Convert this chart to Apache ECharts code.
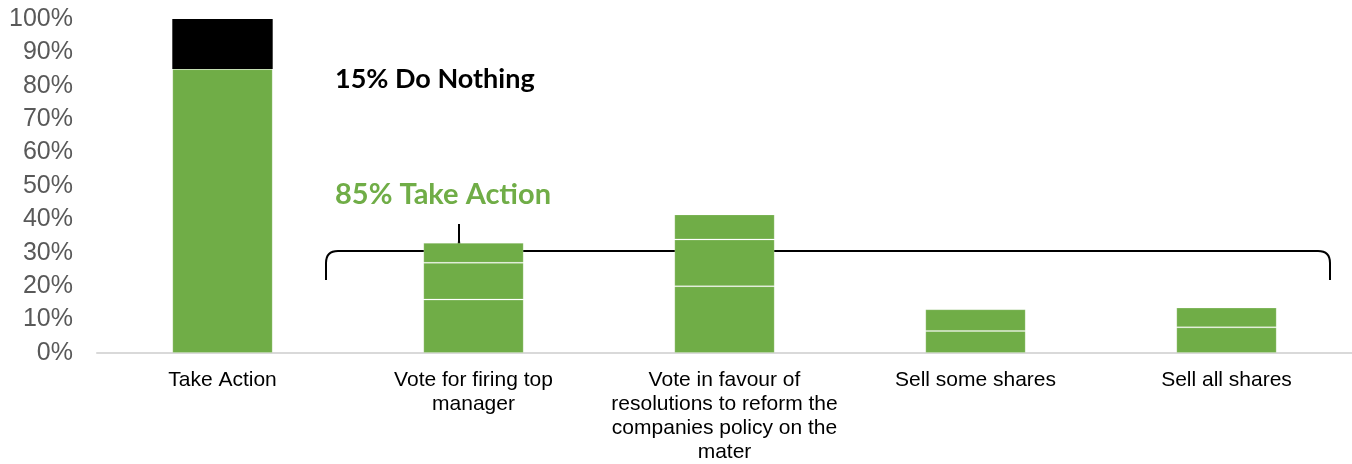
<!DOCTYPE html>
<html>
<head>
<meta charset="utf-8">
<script src="https://cdn.jsdelivr.net/npm/echarts@6/dist/echarts.min.js"></script>
<style>
  html, body { margin: 0; padding: 0; background: #ffffff; }
  #chart { width: 1352px; height: 464px; }
</style>
</head>
<body>
<div id="chart"></div>
<script>
// Survey answers: share of respondents per reaction (percent)
const categories = [
  'Take Action',
  'Vote for firing top\nmanager',
  'Vote in favour of\nresolutions to reform the\ncompanies policy on the\nmater',
  'Sell some shares',
  'Sell all shares'
];
// Green stacked segments (bottom to top) and the "do nothing" remainder
const segmentA = [85, 16, 20, 6.6, 7.7];
const segmentB = ['-', 11, 14, 6.5, 5.9];
const segmentC = ['-', 6, 7.5, '-', '-'];
const doNothing = [15, '-', '-', '-', '-'];
const yTicks = { min: 0, max: 100, interval: 10 };

const GREEN = '#70AD47';
const segStyle = { color: GREEN, borderColor: 'rgba(255,255,255,0.2)', borderWidth: 1 };

function greenSeries(name, data) {
  return {
    name, type: 'bar', stack: 'total', data,
    barWidth: '40%', itemStyle: segStyle, silent: true
  };
}

// Curly brace grouping the four action bars, built from lines and quadratic curves
const braceStroke = { stroke: '#000000', lineWidth: 2, fill: null };
function seg(x1, y1, x2, y2) {
  return { type: 'line', shape: { x1, y1, x2, y2 }, style: braceStroke, silent: true };
}
function curve(x1, y1, cx, cy, x2, y2) {
  return { type: 'bezierCurve', shape: { x1, y1, x2, y2, cpx1: cx, cpy1: cy }, style: braceStroke, silent: true };
}
const brace = [
  seg(326, 280, 326, 263),
  curve(326, 263, 326, 251, 338, 251),
  seg(338, 251, 451, 251),
  curve(451, 251, 459, 251, 459, 241),
  seg(459, 241, 459, 224),
  curve(467, 251, 459, 251, 459, 241),
  seg(467, 251, 1318, 251),
  curve(1318, 251, 1330, 251, 1330, 263),
  seg(1330, 263, 1330, 280)
];

const chart = echarts.init(document.getElementById('chart'), null, { renderer: 'canvas' });
chart.setOption({
  animation: false,
  backgroundColor: '#ffffff',
  grid: { left: 97, right: 0, top: 19, bottom: 111, containLabel: false },
  xAxis: {
    type: 'category',
    data: categories,
    axisLine: { show: true, lineStyle: { color: '#d9d9d9', width: 2 } },
    axisTick: { show: false },
    axisLabel: {
      color: '#000000', fontSize: 21, lineHeight: 24, margin: 15,
      fontFamily: 'Liberation Sans, Arial, sans-serif', interval: 0, align: 'center'
    }
  },
  yAxis: {
    type: 'value',
    min: yTicks.min, max: yTicks.max, interval: yTicks.interval,
    splitLine: { show: false },
    axisLine: { show: false },
    axisTick: { show: false },
    axisLabel: {
      formatter: '{value}%', color: '#595959', fontSize: 25, margin: 24,
      fontFamily: 'Liberation Sans, Arial, sans-serif'
    }
  },
  series: [
    greenSeries('A', segmentA),
    greenSeries('B', segmentB),
    greenSeries('C', segmentC),
    {
      name: 'Do nothing', type: 'bar', stack: 'total', data: doNothing,
      barWidth: '40%', itemStyle: { color: '#000000' }, silent: true
    }
  ],
  graphic: [
    {
      type: 'text', x: 335, y: 79,
      style: {
        text: '15% Do Nothing', fill: '#000000',
        fontSize: 27, fontWeight: 'bold', fontFamily: 'Lato, "Open Sans", sans-serif',
        verticalAlign: 'middle', align: 'left'
      }
    },
    {
      type: 'text', x: 335, y: 195,
      style: {
        text: '85% Take Action', fill: GREEN,
        fontSize: 29, fontWeight: 'bold', fontFamily: 'Lato, "Open Sans", sans-serif',
        verticalAlign: 'middle', align: 'left'
      }
    }
  ].concat(brace)
});
</script>
</body>
</html>
